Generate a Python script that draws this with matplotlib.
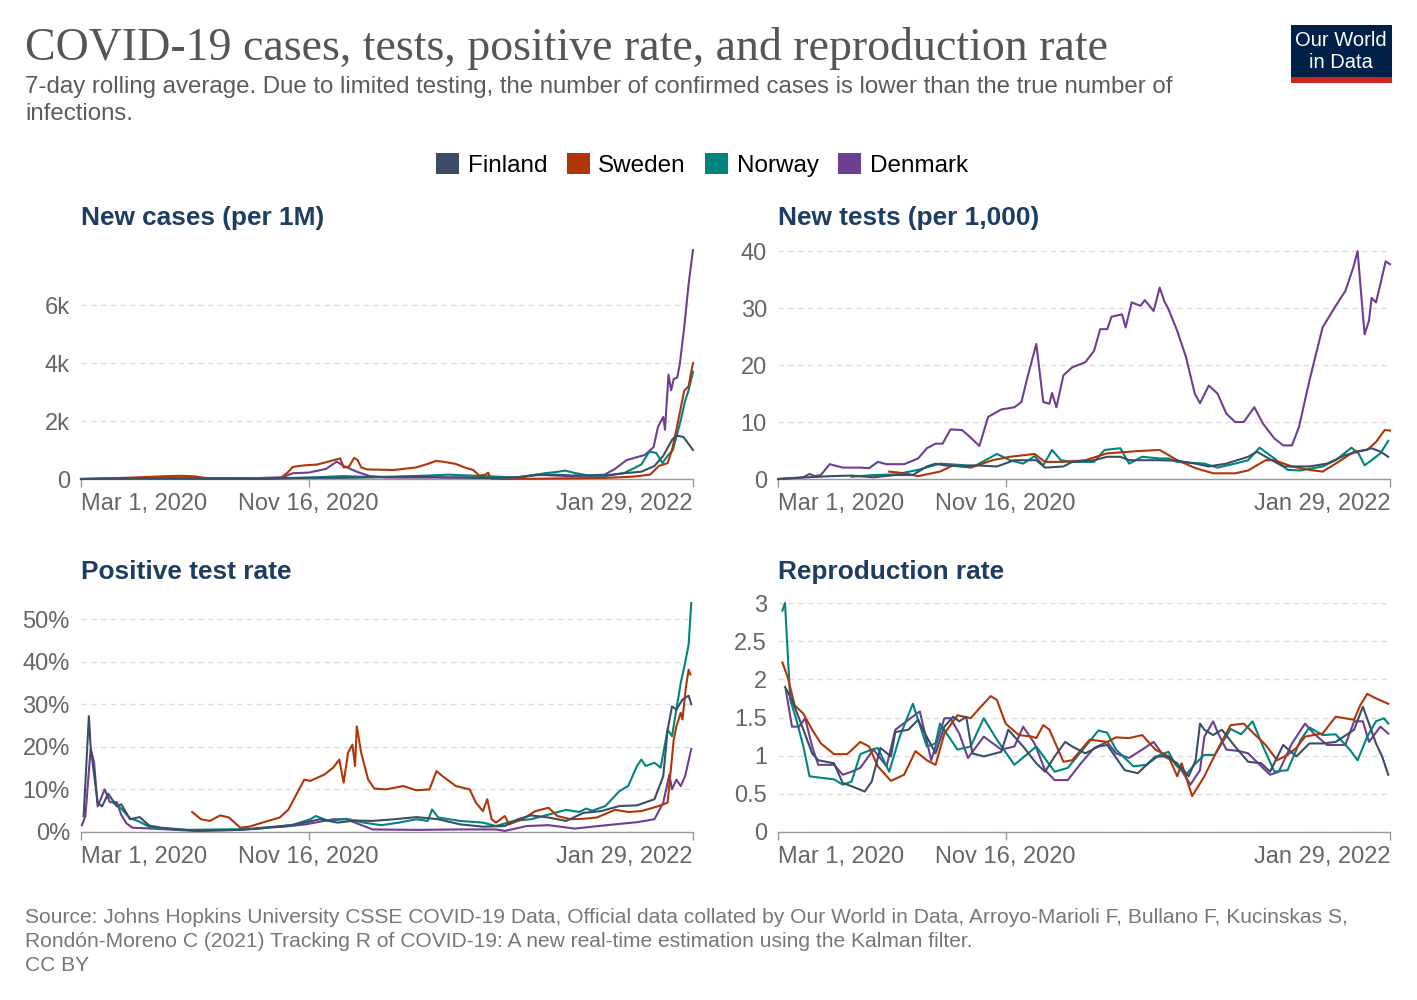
import matplotlib
matplotlib.use("Agg")
import matplotlib.pyplot as plt
from matplotlib.patches import Rectangle, Patch

# ---------------- data (day offsets from Mar 1, 2020) ----------------
countries = ["Finland", "Sweden", "Norway", "Denmark"]
colors = ["#3C4E66", "#B13507", "#00847E", "#6D3E91"]
xtick_days = [0, 260, 699]
xtick_labels = ["Mar 1, 2020", "Nov 16, 2020", "Jan 29, 2022"]

# New cases per 1M
cases_fin_d = [0, 30, 60, 100, 200, 260, 300, 340, 380, 420, 470, 500, 520, 540, 560, 600, 620, 640, 655, 665, 675, 680, 688, 693, 699]
cases_fin_v = [0, 10, 20, 15, 5, 40, 40, 60, 90, 50, 30, 60, 130, 150, 120, 110, 200, 250, 450, 800, 1350, 1500, 1450, 1250, 1000]
cases_swe_d = [0, 50, 100, 115, 130, 145, 200, 228, 237, 242, 255, 270, 285, 296, 300, 306, 312, 316, 320, 327, 357, 383, 398, 405, 413, 428, 438, 448, 455, 462, 465, 468, 480, 520, 600, 630, 650, 660, 670, 675, 680, 684, 689, 694, 697, 699]
cases_swe_v = [0, 40, 100, 110, 90, 20, 10, 30, 250, 420, 470, 500, 620, 710, 400, 420, 730, 650, 400, 330, 310, 400, 540, 620, 600, 520, 400, 310, 115, 150, 220, 20, 0, 10, 40, 80, 150, 450, 550, 1000, 1700, 2300, 3050, 3200, 3700, 4000]
cases_nor_d = [0, 60, 200, 260, 300, 330, 360, 380, 420, 460, 500, 530, 545, 553, 565, 580, 600, 620, 640, 649, 657, 664, 670, 676, 684, 690, 694, 699]
cases_nor_v = [0, 15, 10, 50, 100, 70, 80, 100, 150, 100, 50, 200, 250, 290, 200, 120, 130, 200, 500, 940, 900, 550, 800, 1000, 1900, 2700, 3060, 3700]
cases_den_d = [0, 100, 200, 230, 242, 260, 280, 292, 300, 315, 330, 350, 400, 440, 480, 500, 520, 540, 560, 598, 610, 623, 644, 654, 659, 665, 667, 671, 674, 677, 681, 684, 689, 694, 699]
cases_den_v = [0, 30, 30, 60, 200, 220, 350, 600, 450, 250, 100, 50, 50, 60, 40, 70, 150, 120, 100, 150, 350, 650, 830, 1100, 1800, 2140, 1700, 3600, 3060, 3450, 3500, 3980, 5240, 6730, 7900]

# New tests per 1,000
tests_fin_d = [0, 34, 60, 84, 109, 134, 154, 170, 180, 190, 210, 225, 250, 270, 295, 305, 326, 336, 361, 376, 391, 401, 436, 456, 477, 492, 512, 537, 547, 557, 577, 607, 627, 648, 663, 678, 688, 697]
tests_fin_v = [0, 0.3, 0.5, 0.6, 0.3, 0.7, 0.7, 2.2, 2.7, 2.4, 2.2, 2.4, 2.2, 3.3, 3.3, 2.0, 2.2, 3.0, 3.3, 3.9, 3.9, 3.3, 3.3, 3.2, 2.7, 2.2, 2.7, 3.9, 4.8, 3.9, 2.2, 2.2, 2.7, 4.2, 4.8, 5.4, 4.8, 3.9]
tests_swe_d = [127, 145, 160, 185, 200, 220, 245, 265, 293, 305, 326, 351, 376, 411, 436, 456, 477, 497, 522, 537, 557, 567, 587, 607, 622, 637, 658, 673, 683, 693, 699]
tests_swe_v = [1.3, 1.0, 0.5, 1.3, 2.4, 2.0, 3.3, 3.9, 4.4, 3.0, 3.0, 3.3, 4.5, 4.9, 5.1, 3.3, 1.9, 1.0, 1.0, 1.5, 3.3, 3.3, 2.2, 1.6, 1.3, 2.7, 4.8, 5.1, 6.5, 8.6, 8.5]
tests_nor_d = [84, 109, 134, 160, 185, 225, 250, 265, 280, 293, 303, 313, 323, 336, 361, 373, 391, 401, 416, 436, 446, 456, 487, 502, 522, 537, 550, 567, 582, 597, 622, 637, 655, 663, 670, 678, 688, 697]
tests_nor_v = [0.4, 0.7, 0.8, 1.6, 2.7, 2.3, 4.4, 3.3, 2.7, 4.0, 2.4, 5.1, 3.3, 3.0, 3.0, 5.1, 5.4, 2.7, 3.9, 3.6, 3.6, 3.0, 2.7, 2.0, 2.7, 3.3, 5.5, 3.6, 1.6, 1.5, 2.2, 3.3, 5.5, 4.5, 2.4, 3.3, 4.5, 6.7]
tests_den_d = [0, 29, 36, 42, 49, 59, 74, 94, 104, 114, 124, 144, 160, 170, 180, 188, 197, 210, 217, 230, 240, 255, 270, 278, 285, 295, 303, 310, 313, 318, 326, 336, 351, 361, 368, 376, 381, 393, 397, 404, 414, 419, 429, 436, 441, 446, 456, 466, 476, 482, 492, 502, 512, 522, 532, 544, 554, 567, 577, 587, 595, 607, 622, 637, 648, 657, 662, 668, 670, 675, 678, 683, 688, 694, 699]
tests_den_v = [0, 0.3, 0.9, 0.5, 0.7, 2.6, 2.0, 2.0, 1.9, 3.0, 2.6, 2.6, 3.6, 5.4, 6.2, 6.2, 8.7, 8.6, 7.7, 5.8, 10.9, 12.2, 12.6, 13.5, 17.9, 23.7, 13.5, 13.2, 15.1, 12.6, 18.2, 19.6, 20.5, 22.5, 26.3, 26.3, 28.5, 28.9, 26.6, 31.0, 30.4, 31.4, 29.5, 33.6, 31.3, 29.8, 26.0, 21.4, 15.0, 13.3, 16.4, 15.0, 11.5, 10.0, 10.0, 12.6, 9.7, 7.1, 5.9, 5.9, 9.1, 17.3, 26.6, 30.4, 33.0, 37.1, 40.0, 28.9, 25.4, 27.8, 31.8, 31.0, 34.2, 38.2, 37.7]

# Positive test rate (%)
pos_fin_d = [3, 9, 11, 19, 24, 31, 41, 46, 56, 67, 78, 92, 132, 182, 207, 242, 273, 293, 313, 333, 358, 383, 408, 433, 459, 484, 499, 514, 534, 554, 574, 594, 615, 635, 655, 665, 670, 675, 680, 687, 694, 697]
pos_fin_v = [3.75, 27.2, 20, 6.9, 6.0, 9.0, 6.0, 6.5, 3.0, 3.5, 1.5, 1.0, 0.3, 0.5, 1.0, 1.6, 3.0, 2.2, 2.7, 2.6, 3.0, 3.5, 3.0, 1.8, 1.25, 1.4, 3.0, 3.9, 3.4, 2.6, 4.5, 4.9, 6.1, 6.25, 7.7, 13.1, 24, 29.5, 28.75, 31.1, 32, 30]
pos_swe_d = [127, 137, 147, 159, 169, 182, 192, 207, 227, 237, 247, 255, 262, 278, 288, 295, 300, 305, 310, 313, 315, 320, 328, 335, 348, 368, 383, 398, 406, 413, 428, 444, 451, 459, 464, 469, 474, 484, 489, 504, 519, 534, 544, 559, 574, 589, 610, 625, 640, 660, 670, 677, 680, 685, 687, 691, 694, 696]
pos_swe_v = [4.7, 3.0, 2.6, 3.9, 3.4, 1.0, 1.25, 2.2, 3.4, 5.3, 9.2, 12.3, 12, 13.5, 15.1, 17, 11.6, 18.6, 20.5, 15.5, 24.8, 18.6, 12.3, 10.2, 10, 10.8, 9.8, 10, 14.3, 13.1, 10.8, 10, 6.9, 4.9, 7.7, 3.0, 2.2, 3.75, 1.8, 3.0, 4.9, 5.7, 3.75, 3.0, 3.1, 3.4, 5.2, 4.7, 4.9, 6.1, 6.9, 21.7, 24.8, 28, 26.4, 34.2, 38.1, 37]
pos_nor_d = [36, 46, 56, 66, 80, 120, 200, 242, 262, 268, 283, 303, 323, 343, 363, 383, 396, 401, 408, 433, 459, 474, 494, 514, 534, 554, 569, 577, 584, 599, 615, 625, 635, 640, 645, 655, 662, 670, 675, 680, 685, 690, 694, 697]
pos_nor_v = [7.0, 5.5, 3.2, 2.5, 1.0, 0.5, 0.7, 1.7, 3.0, 3.75, 2.6, 3.1, 2.2, 1.6, 2.2, 3.0, 2.6, 5.3, 3.4, 2.6, 2.2, 1.4, 2.6, 3.0, 4.1, 5.2, 4.7, 5.5, 5.0, 6.1, 9.6, 10.8, 15.5, 17, 15.5, 16.25, 15.1, 24, 22.5, 28.75, 35, 39.7, 44, 53.75]
pos_den_d = [1, 5, 11, 15, 19, 27, 33, 41, 46, 52, 59, 81, 107, 132, 182, 212, 232, 257, 288, 303, 318, 333, 383, 433, 474, 484, 509, 534, 564, 584, 610, 635, 655, 665, 672, 675, 680, 685, 690, 697]
pos_den_v = [1.6, 3.75, 19.5, 16.25, 6.0, 10, 7.0, 7.0, 4.0, 2.0, 1.0, 0.8, 0.5, 0.25, 0.5, 1.0, 1.25, 1.8, 3.0, 3.0, 1.8, 0.6, 0.5, 0.6, 0.6, 0.25, 1.4, 1.6, 0.8, 1.25, 1.8, 2.3, 3.0, 6.9, 13.5, 10, 12.3, 10.8, 13.1, 19.5]

# Reproduction rate
r_fin_d = [8, 16, 29, 39, 46, 64, 74, 84, 99, 107, 117, 129, 134, 149, 160, 167, 180, 190, 200, 207, 215, 222, 235, 255, 263, 280, 295, 305, 316, 328, 336, 351, 366, 376, 396, 411, 431, 446, 461, 469, 477, 482, 487, 497, 507, 522, 537, 552, 562, 577, 592, 607, 622, 637, 658, 668, 675, 683, 690, 697]
r_fin_v = [1.9, 1.73, 1.34, 1.03, 0.94, 0.90, 0.64, 0.60, 0.53, 0.66, 1.10, 0.99, 1.31, 1.34, 1.47, 1.31, 1.03, 1.38, 1.51, 1.45, 1.51, 1.03, 0.99, 1.05, 1.34, 1.12, 0.90, 0.79, 0.99, 1.18, 1.12, 1.03, 1.12, 1.14, 0.81, 0.77, 0.99, 0.99, 0.84, 0.73, 0.94, 1.42, 1.34, 1.27, 1.34, 1.12, 0.92, 0.90, 0.79, 1.14, 0.99, 1.16, 1.16, 1.18, 1.34, 1.64, 1.42, 1.16, 0.99, 0.75]
r_swe_d = [5, 11, 19, 29, 39, 49, 64, 79, 94, 104, 114, 129, 144, 157, 170, 180, 190, 205, 220, 230, 243, 250, 260, 275, 290, 295, 303, 310, 326, 336, 356, 376, 386, 401, 416, 431, 446, 456, 461, 473, 487, 502, 517, 532, 547, 557, 570, 582, 592, 602, 622, 637, 658, 665, 673, 683, 697]
r_swe_v = [2.22, 2.03, 1.66, 1.55, 1.34, 1.16, 1.02, 1.02, 1.18, 1.12, 0.86, 0.67, 0.75, 1.06, 0.94, 0.88, 1.29, 1.53, 1.49, 1.62, 1.78, 1.73, 1.42, 1.27, 1.25, 1.23, 1.40, 1.34, 0.92, 0.94, 1.21, 1.18, 1.24, 1.23, 1.27, 1.08, 0.99, 0.73, 0.90, 0.47, 0.73, 1.08, 1.40, 1.42, 1.25, 1.14, 0.94, 1.01, 1.10, 1.25, 1.29, 1.51, 1.47, 1.66, 1.81, 1.75, 1.68]
r_nor_d = [5, 8, 14, 21, 29, 36, 49, 64, 74, 84, 94, 107, 114, 127, 139, 154, 170, 180, 185, 205, 220, 235, 250, 270, 295, 316, 331, 351, 366, 376, 386, 406, 421, 436, 446, 454, 466, 477, 487, 499, 517, 529, 542, 554, 567, 582, 597, 607, 622, 637, 653, 662, 673, 683, 692, 697]
r_nor_v = [2.90, 3.0, 1.73, 1.47, 1.12, 0.73, 0.71, 0.69, 0.62, 0.66, 1.02, 1.08, 1.10, 0.79, 1.25, 1.68, 1.12, 1.16, 1.42, 1.08, 1.12, 1.49, 1.21, 0.88, 1.12, 0.79, 0.84, 1.12, 1.33, 1.30, 1.08, 0.86, 0.88, 1.01, 1.05, 0.88, 0.75, 0.90, 1.01, 1.01, 1.35, 1.28, 1.45, 1.12, 0.79, 0.81, 1.21, 1.37, 1.27, 1.28, 1.08, 0.94, 1.25, 1.45, 1.49, 1.42]
r_den_d = [9, 16, 24, 31, 39, 46, 64, 74, 84, 94, 109, 124, 134, 149, 162, 175, 190, 197, 207, 217, 235, 255, 270, 280, 293, 305, 316, 331, 346, 361, 376, 386, 401, 416, 429, 441, 456, 471, 482, 487, 497, 502, 512, 527, 537, 552, 562, 572, 587, 602, 612, 627, 648, 658, 668, 675, 688, 697]
r_den_v = [1.86, 1.38, 1.38, 1.49, 1.12, 0.88, 0.88, 0.75, 0.79, 0.84, 1.08, 0.86, 1.34, 1.47, 1.58, 0.94, 1.49, 1.49, 1.29, 0.97, 1.25, 1.08, 1.12, 1.38, 1.16, 0.81, 0.68, 0.68, 0.90, 1.10, 1.18, 1.03, 0.97, 1.08, 1.18, 0.99, 0.90, 0.62, 0.81, 1.25, 1.45, 1.31, 1.08, 1.06, 1.03, 0.86, 0.75, 0.79, 1.16, 1.42, 1.29, 1.14, 1.14, 1.45, 1.45, 1.18, 1.38, 1.29]

panel_titles = ["New cases (per 1M)", "New tests (per 1,000)", "Positive test rate", "Reproduction rate"]
cases_ticks = [0, 2000, 4000, 6000]
cases_ticklabels = ["0", "2k", "4k", "6k"]
tests_ticks = [0, 10, 20, 30, 40]
pos_ticks = [0, 10, 20, 30, 40, 50]
r_ticks = [0, 0.5, 1, 1.5, 2, 2.5, 3]
r_ticklabels = ["0", "0.5", "1", "1.5", "2", "2.5", "3"]

title = "COVID-19 cases, tests, positive rate, and reproduction rate"
subtitle = ("7-day rolling average. Due to limited testing, the number of confirmed cases is lower than the true number of\n"
            "infections.")
footer = ("Source: Johns Hopkins University CSSE COVID-19 Data, Official data collated by Our World in Data, Arroyo-Marioli F, Bullano F, Kucinskas S,\n"
          "Rondón-Moreno C (2021) Tracking R of COVID-19: A new real-time estimation using the Kalman filter.\n"
          "CC BY")

# ---------------- figure ----------------
W, H = 1417, 1000
plt.rcParams['font.family'] = ['Liberation Sans', 'DejaVu Sans']
fig = plt.figure(figsize=(W / 100, H / 100), dpi=100)
fig.patch.set_facecolor("white")


def rect(l, t, r, b):
    return [l / W, 1 - b / H, (r - l) / W, (b - t) / H]


def style(ax, ylim, ticks, labels):
    ax.set_xlim(0, 699)
    ax.set_ylim(*ylim)
    for s in ["top", "right", "left"]:
        ax.spines[s].set_visible(False)
    ax.spines["bottom"].set_color("#999999")
    ax.spines["bottom"].set_linewidth(1.0)
    ax.set_yticks(ticks)
    ax.set_yticklabels(labels)
    ax.grid(axis="y", color="#dddddd", linestyle=(0, (4, 3)), linewidth=1.0)
    ax.set_axisbelow(True)
    ax.tick_params(axis="y", length=0, pad=8, labelsize=17, labelcolor="#666666")
    ax.tick_params(axis="x", length=6, width=1, color="#999999", pad=4,
                   labelsize=17, labelcolor="#666666")
    ax.set_xticks(xtick_days)
    ax.set_xticklabels(xtick_labels)
    for lab, ha in zip(ax.get_xticklabels(), ["left", "center", "right"]):
        lab.set_horizontalalignment(ha)


ax1 = fig.add_axes(rect(81, 250, 693, 479))
ax2 = fig.add_axes(rect(778, 250, 1390, 479))
ax3 = fig.add_axes(rect(81, 602, 693, 832))
ax4 = fig.add_axes(rect(778, 603, 1390, 832))

style(ax1, (0, 7900), cases_ticks, cases_ticklabels)
style(ax2, (0, 40.2), tests_ticks, [str(t) for t in tests_ticks])
style(ax3, (0, 54), pos_ticks, [f"{t}%" for t in pos_ticks])
style(ax4, (0, 3.0), r_ticks, r_ticklabels)

panels = [
    (ax1, [(cases_fin_d, cases_fin_v), (cases_swe_d, cases_swe_v), (cases_nor_d, cases_nor_v), (cases_den_d, cases_den_v)]),
    (ax2, [(tests_fin_d, tests_fin_v), (tests_swe_d, tests_swe_v), (tests_nor_d, tests_nor_v), (tests_den_d, tests_den_v)]),
    (ax3, [(pos_fin_d, pos_fin_v), (pos_swe_d, pos_swe_v), (pos_nor_d, pos_nor_v), (pos_den_d, pos_den_v)]),
    (ax4, [(r_fin_d, r_fin_v), (r_swe_d, r_swe_v), (r_nor_d, r_nor_v), (r_den_d, r_den_v)]),
]
draw_order = [3, 2, 1, 0]
for ax, series in panels:
    for i in draw_order:
        d, v = series[i]
        ax.plot(d, v, color=colors[i], lw=1.5, solid_joinstyle="round", clip_on=False, zorder=3 + (3 - i))

# panel titles
for (x, y), t in zip([(81, 218), (778, 218), (81, 572), (778, 572)], panel_titles):
    fig.text(x / W, 1 - y / H, t, fontsize=18.9, fontweight="bold", color="#1d3d63", va="center", ha="left")

# header
fig.text(25 / W, 1 - 49 / H, title, family="Liberation Serif", fontsize=33, color="#555555", va="center", ha="left")
fig.text(25 / W, 1 - 76 / H, subtitle, fontsize=17.3, color="#5b5b5b", va="top", ha="left",
         linespacing=1.32)

# logo
fig.patches.append(Rectangle((1291 / W, 1 - 83 / H), 101 / W, 58 / H, transform=fig.transFigure,
                             facecolor="#002147", edgecolor="none"))
fig.patches.append(Rectangle((1291 / W, 1 - 83 / H), 101 / W, 6 / H, transform=fig.transFigure,
                             facecolor="#ce261e", edgecolor="none"))
fig.text(1341 / W, 1 - 41 / H, "Our World", color="white", fontsize=14.5, ha="center", va="center")
fig.text(1341 / W, 1 - 62 / H, "in Data", color="white", fontsize=14.5, ha="center", va="center")

# legend
handles = [Patch(facecolor=c, edgecolor="none", label=n) for c, n in zip(colors, countries)]
fig.legend(handles=handles, loc="center", bbox_to_anchor=(702 / W, 1 - 165 / H), ncol=4, frameon=False,
           fontsize=17.5, handlelength=0.95, handleheight=0.95, handletextpad=0.35, columnspacing=0.8,
           borderaxespad=0)

# footer
fig.text(25 / W, 1 - 908 / H, footer, fontsize=15.1, color="#777777", va="top", ha="left", linespacing=1.33)

fig.savefig("out.png", dpi=100, facecolor="white")
